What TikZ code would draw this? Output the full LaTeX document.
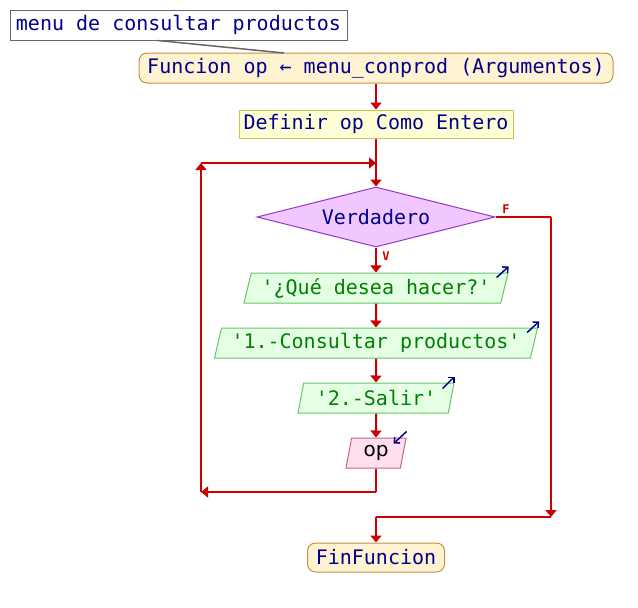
\documentclass[tikz,border=0pt]{standalone}
\usepackage{fontspec}
\usepackage{tikz}
\usetikzlibrary{shapes}
\usetikzlibrary{shapes.geometric}
\usetikzlibrary{arrows.meta}
\newfontfamily\psefont{DejaVu Sans Mono}
\newfontfamily\opfont{DejaVu Sans}
\definecolor{flowred}{RGB}{204,0,0}
\definecolor{txtblue}{RGB}{0,0,140}
\definecolor{txtgreen}{RGB}{0,128,0}
\definecolor{funfill}{RGB}{255,243,210}
\definecolor{fundraw}{RGB}{200,144,64}
\definecolor{deffill}{RGB}{255,255,214}
\definecolor{defdraw}{RGB}{200,200,80}
\definecolor{condfill}{RGB}{240,200,255}
\definecolor{conddraw}{RGB}{153,51,204}
\definecolor{outfill}{RGB}{228,255,228}
\definecolor{outdraw}{RGB}{100,200,100}
\definecolor{infill}{RGB}{255,224,240}
\definecolor{indraw}{RGB}{204,96,140}
\tikzstyle{block} = [rectangle, inner sep=0pt, text=txtblue, line width=1pt,
font=\psefont\fontsize{20}{24}\selectfont]
\tikzstyle{note} = [block, draw=black!60, fill=white]
\tikzstyle{terminal} = [block, draw=fundraw, fill=funfill, rounded corners=8pt]
\tikzstyle{define} = [block, draw=defdraw, fill=deffill]
\tikzstyle{cond} = [block, diamond, aspect=4, draw=conddraw, fill=condfill]
\tikzstyle{io} = [block, trapezium, trapezium left angle=70, trapezium right angle=110,
trapezium stretches body, minimum height=30pt]
\tikzstyle{outbox} = [io, draw=outdraw, fill=outfill, text=txtgreen]
\tikzstyle{inbox} = [io, draw=indraw, fill=infill, text=black, font=\opfont\fontsize{20}{24}\selectfont]
\tikzstyle{flow} = [draw=flowred, line width=2pt, >={Triangle[width=11pt,length=7pt]}]
\tikzstyle{ioarrow} = [draw=txtblue, line width=1.5pt, -{Straight Barb[length=4pt,width=8pt]}]
\tikzstyle{flowlabel} = [text=flowred, inner sep=0pt, font=\psefont\bfseries\fontsize{12}{12}\selectfont]
\newcommand{\link}[3][]{ %
  % Join every node of #2 to every node of #3.
  \foreach \x in {#2} { %
    \foreach \y in {#3} { %
      \path (\x) edge [flow, ->, #1] (\y) ;%
    } ;
  } ;
}

\begin{document}
\begin{tikzpicture}[x=1pt, y=-1pt]
  \useasboundingbox (0,0) rectangle (638,608);
  \node[note, minimum width=337pt, minimum height=30pt](rem) at (178.5,25) {menu de consultar productos};
  \node[terminal, minimum width=474pt, minimum height=30pt](fun) at (376,68) {Funcion op ← menu\_conprod (Argumentos)};
  \draw[black!60, line width=1.5pt] (158,40.5) -- (284,53);
  \node[define, minimum width=274pt, minimum height=28pt](def) at (376,124) {Definir op Como Entero};
  \node[cond, minimum width=238pt, minimum height=60pt](cnd) at (376,217) {Verdadero};
  \node[outbox, minimum width=264pt](o1) at (376,288) {'¿Qué desea hacer?'};
  \node[outbox, minimum width=323pt](o2) at (376,343) {'1.-Consultar productos'};
  \node[outbox, minimum width=156pt](o3) at (376,398) {'2.-Salir'};
  \node[inbox, minimum width=60pt](rd) at (376,453) {op};
  \node[terminal, minimum width=137pt, minimum height=29pt](fin) at (376,557.5) {FinFuncion};
  \node[flowlabel](lf) at (506,209) {F};
  \node[flowlabel](lv) at (386,256) {V};
  % loop corners
  \coordinate (top) at (376,163);
  \coordinate (lt) at (201,163);
  \coordinate (lb) at (201,492);
  \coordinate (ob) at (376,492);
  \coordinate (fr) at (551,217);
  \coordinate (fb) at (551,517);
  \coordinate (fe) at (376,517);
  \link{fun}{def};
  \link{top}{cnd};
  \link{cnd}{o1};
  \link{o1}{o2};
  \link{o2}{o3};
  \link{o3}{rd};
  \draw[flow] (def) -- (top);
  \draw[flow] (rd) -- (ob);
  \draw[flow, ->] (ob) -- (lb);
  \draw[flow, ->] (lb) -- (lt);
  \draw[flow, ->] (lt) -- (top);
  \draw[flow] (cnd.east) -- (fr);
  \draw[flow, ->] (fr) -- (fb);
  \draw[flow] (fb) -- (fe);
  \link{fe}{fin};
  % in/out marks
  \draw[ioarrow] ([shift={(-12,5)}]o1.top right corner) -- ++(12,-11);
  \draw[ioarrow] ([shift={(-11,5)}]o2.top right corner) -- ++(12,-11);
  \draw[ioarrow] ([shift={(-12,6)}]o3.top right corner) -- ++(12,-12);
  \draw[ioarrow] ([shift={(0,-6)}]rd.top right corner) -- ++(-13,12);
\end{tikzpicture}
\end{document}
